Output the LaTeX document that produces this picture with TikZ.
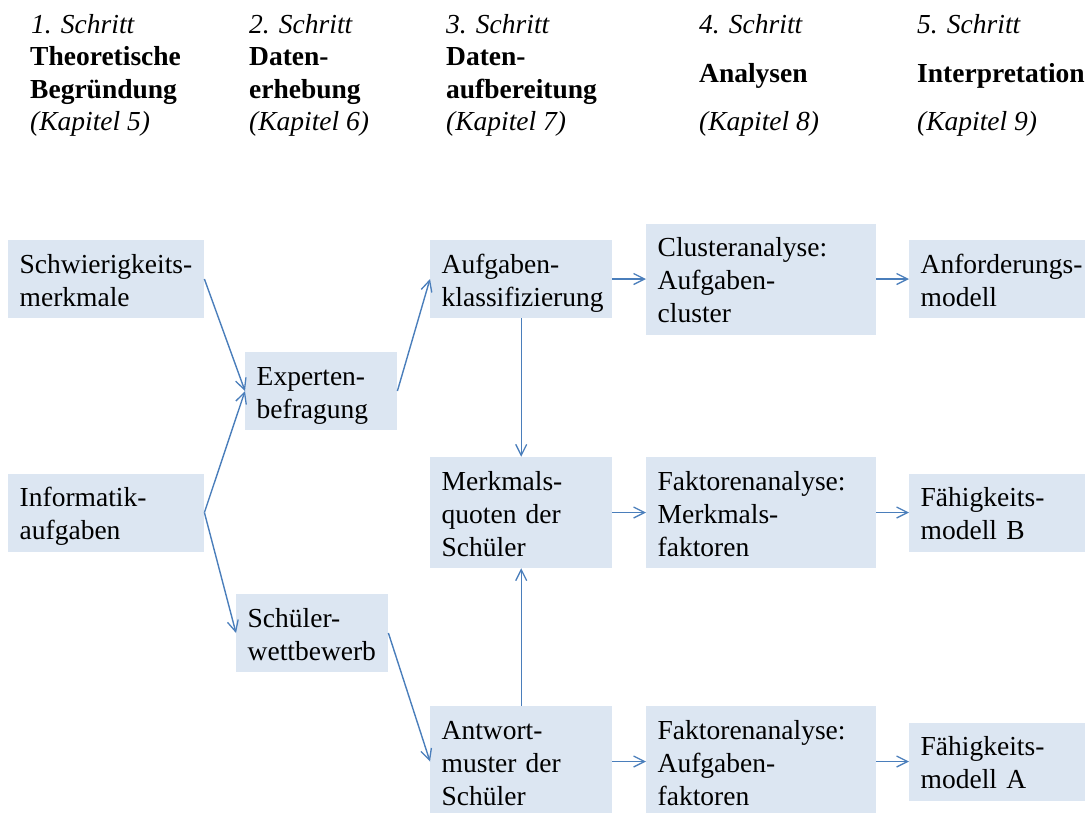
\documentclass[tikz,border=0pt]{standalone}
\usepackage{fontspec}
\setmainfont{Liberation Serif}
\usetikzlibrary{arrows.meta}
\definecolor{boxfill}{HTML}{DCE6F2}
\definecolor{arrowblue}{HTML}{4A7EBB}
\newcommand\bfs{\fontsize{27.5}{33}\selectfont}
\newcommand\lst{\rule[-6pt]{0pt}{33pt}}
\hfuzz=20pt
\begin{document}
\begin{tikzpicture}[x=1pt,y=-1pt,
  bx/.style={fill=boxfill, inner xsep=11.5pt, inner ysep=6pt, align=left,
    anchor=west, font=\bfs, text width=#1},
  hd/.style={font=\bfs, anchor=base west, inner sep=0pt},
  arr/.style={draw=arrowblue, line width=1.4pt,
    -{Straight Barb[length=11pt,width=11pt,line width=1.3pt]}}]
\useasboundingbox (0,0) rectangle (1085,812);
% header
\node[hd] (h1a) at (31,33) {\textit{1. Schritt}};
\node[hd] (h1b) at (30,65.5) {\textbf{Theoretische}};
\node[hd] (h1c) at (30,98) {\textbf{Begründung}};
\node[hd] (h1d) at (30,130.5) {\textit{(Kapitel 5)}};
\node[hd] (h2a) at (249,33) {\textit{2. Schritt}};
\node[hd] (h2b) at (249,65.5) {\textbf{Daten-}};
\node[hd] (h2c) at (249,98) {\textbf{erhebung}};
\node[hd] (h2d) at (249,130.5) {\textit{(Kapitel 6)}};
\node[hd] (h3a) at (446,33) {\textit{3. Schritt}};
\node[hd] (h3b) at (446,65.5) {\textbf{Daten-}};
\node[hd] (h3c) at (446,98) {\textbf{aufbereitung}};
\node[hd] (h3d) at (446,130.5) {\textit{(Kapitel 7)}};
\node[hd] (h4a) at (699,33) {\textit{4. Schritt}};
\node[hd] (h4b) at (699,82) {\textbf{Analysen}};
\node[hd] (h4d) at (699,130.5) {\textit{(Kapitel 8)}};
\node[hd] (h5a) at (917,33) {\textit{5. Schritt}};
\node[hd] (h5b) at (917,82) {\textbf{Interpretation}};
\node[hd] (h5d) at (917,130.5) {\textit{(Kapitel 9)}};
% boxes
\node[bx=173pt] (schw) at (8,279) {\lst Schwierigkeits-\\\lst merkmale};
\node[bx=173pt] (info) at (8,512.5) {\lst Informatik-\\\lst aufgaben};
\node[bx=129pt] (expt) at (245,391) {\lst Experten-\\\lst befragung};
\node[bx=129pt] (wett) at (236,633) {\lst Schüler-\\\lst wettbewerb};
\node[bx=159pt] (klas) at (430,279) {\lst Aufgaben-\\\lst klassifizierung};
\node[bx=159pt] (quot) at (430,512.5) {\lst Merkmals-\\\lst quoten der\\\lst Schüler};
\node[bx=159pt] (antw) at (430,761.5) {\lst Antwort-\\\lst muster der\\\lst Schüler};
\node[bx=207pt] (clus) at (646,279) {\lst Clusteranalyse:\\\lst Aufgaben-\\\lst cluster};
\node[bx=207pt] (fakm) at (646,512.5) {\lst Faktorenanalyse:\\\lst Merkmals-\\\lst faktoren};
\node[bx=207pt] (faka) at (646,761.5) {\lst Faktorenanalyse:\\\lst Aufgaben-\\\lst faktoren};
\node[bx=167pt] (anfo) at (909,279) {\lst Anforderungs-\\\lst modell};
\node[bx=167pt] (fahb) at (909,512.5) {\lst Fähigkeits-\\\lst modell B};
\node[bx=167pt] (faha) at (909,761.5) {\lst Fähigkeits-\\\lst modell A};
% connectors
\draw[arr] (schw.east) -- (expt.west);
\draw[arr] (info.east) -- (expt.west);
\draw[arr] (info.east) -- (wett.west);
\draw[arr] (expt.east) -- (klas.west);
\draw[arr] (wett.east) -- (antw.west);
\draw[arr] (klas.south) -- (quot.north);
\draw[arr] (antw.north) -- (quot.south);
\draw[arr] (klas.east) -- (clus.west);
\draw[arr] (quot.east) -- (fakm.west);
\draw[arr] (antw.east) -- (faka.west);
\draw[arr] (clus.east) -- (anfo.west);
\draw[arr] (fakm.east) -- (fahb.west);
\draw[arr] (faka.east) -- (faha.west);
\end{tikzpicture}
\end{document}
